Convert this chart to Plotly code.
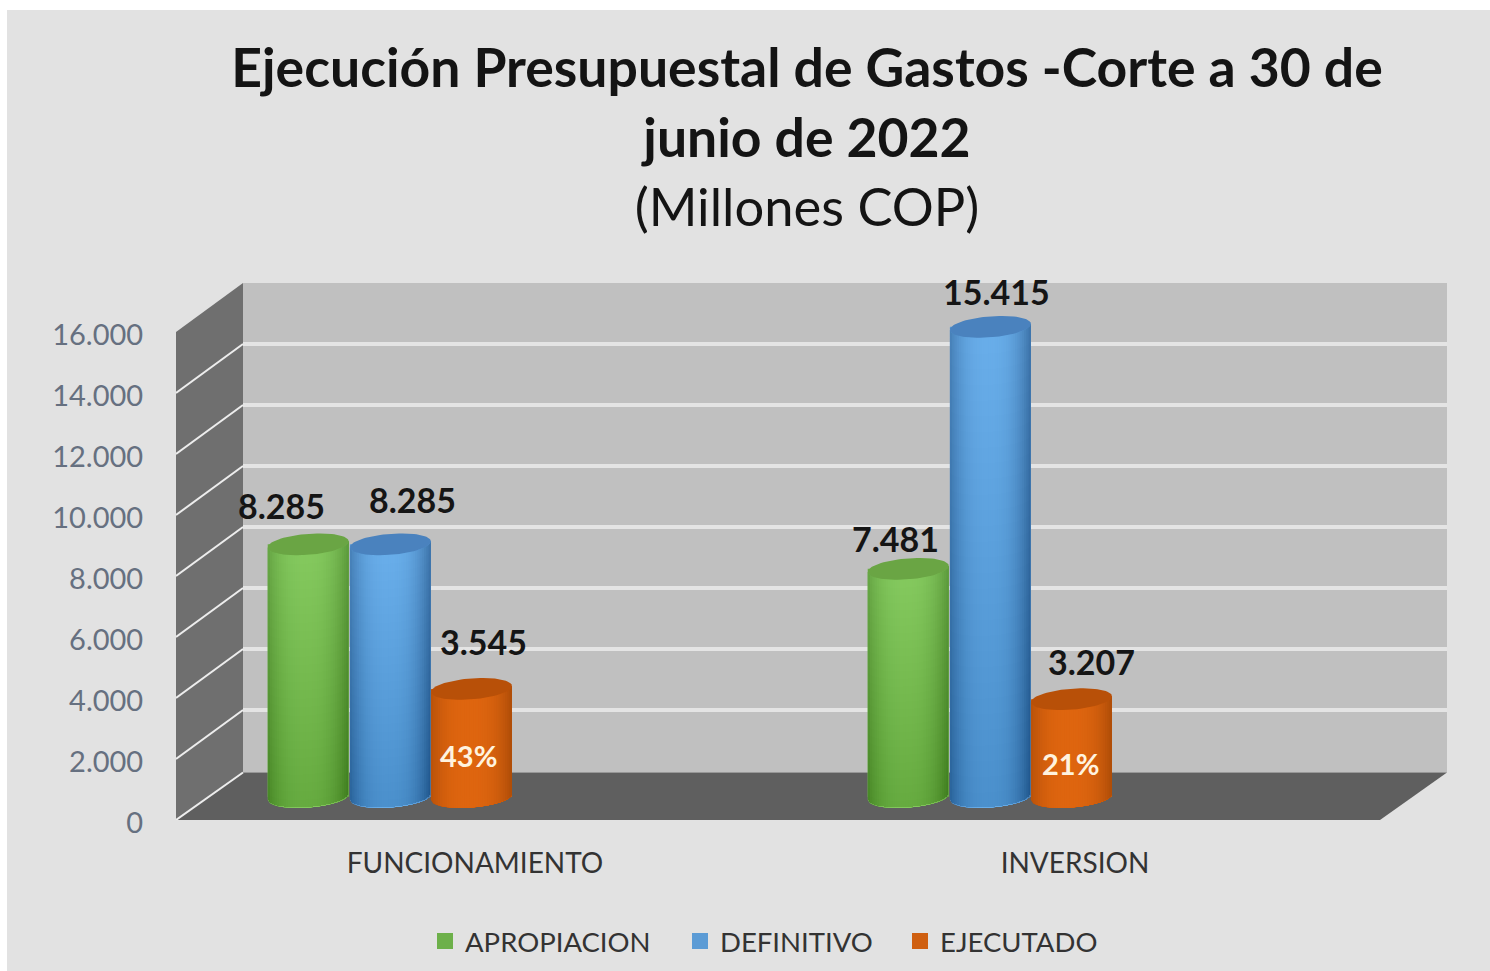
import numpy as np
import plotly.graph_objects as go

# ---------- data ----------
categories = ["FUNCIONAMIENTO", "INVERSION"]
series_names = ["APROPIACION", "DEFINITIVO", "EJECUTADO"]
apropiacion = [8285, 7481]
definitivo = [8285, 15415]
ejecutado = [3545, 3207]
ejecutado_pct = ["43%", "21%"]
y_ticks = [0, 2000, 4000, 6000, 8000, 10000, 12000, 14000, 16000]
y_tick_labels = ["0", "2.000", "4.000", "6.000", "8.000", "10.000", "12.000", "14.000", "16.000"]
title_lines = ["Ejecución Presupuestal de Gastos -Corte a 30 de", "junio de 2022", "(Millones COP)"]

# ---------- page geometry (pixels of the 1490x971 page) ----------
W, H = 1490, 971
L, R, T, B = 176, 1447, 283, 820
PX_PER_X = 600.0          # one category is 600 px wide
PX_PER_Y = 0.0305         # pixels per value unit
X0_PX = 475.0             # pixel of category 0
xmin = (L - X0_PX) / PX_PER_X
xmax = (R - X0_PX) / PX_PER_X
ymax = (B - T) / PX_PER_Y

DX = 67 / PX_PER_X        # depth of the box in x units
DY = 47.5 / PX_PER_Y      # depth of the box in y units
GRID_NUDGE = 1.5 / PX_PER_Y
RADIUS = 40.5 / PX_PER_X
RY = 10.5 / PX_PER_Y
TILT = 3 / PX_PER_Y
BASE = 23 / PX_PER_Y
OFFSETS = [-0.278, -0.141, -0.006]

EDGE = ["#5C9A3C", "#3C72A8", "#AE4C08"]
MID = ["#84C95E", "#69AEEA", "#DE650F"]
CAP = ["#6AA544", "#4A82BE", "#B85008"]
SWATCH = ["#6DB04A", "#5B9BD5", "#CF5F10"]
SHADE_TOTAL = [0.17, 0.12, 0.03]

# pixel offsets of the value labels from the top of each cylinder (series, category)
LABEL_SHIFT = [[(-27, 39), (-13, 30)], [(22, 45), (6, 35)], [(12.5, 47), (20.5, 38)]]
PCT_Y = [(820 - 755) / PX_PER_Y, (820 - 763) / PX_PER_Y]
PCT_X_SHIFT = [-3, -1]
LEGEND_X = [425, 680, 900]


def fmt(v):
    return f"{v:,}".replace(",", ".")


def hex2rgb(h):
    return np.array([int(h[i:i + 2], 16) for i in (1, 3, 5)], dtype=float)


def mix(a, b, f):
    c = hex2rgb(a) * (1 - f) + hex2rgb(b) * f
    return "rgb(%d,%d,%d)" % tuple(c.round())


def arc(t, y):
    """front (lower) edge of an ellipse centred at height y"""
    return y - RY * np.sqrt(np.clip(1 - t ** 2, 0, 1)) + TILT * t


fig = go.Figure()
values = [apropiacion, definitivo, ejecutado]

# real bars, from the data
for s, name in enumerate(series_names):
    fig.add_trace(go.Bar(
        x=[c + OFFSETS[s] for c in range(len(categories))], y=values[s], base=BASE,
        width=2 * RADIUS, marker=dict(color=SWATCH[s], line_width=0),
        name=name, showlegend=False, hovertemplate=name + ": %{y}<extra></extra>"))

# cylinder shading on top of them
N_STRIPS = 36
N_BANDS = 30
for s in range(3):
    for c in range(len(categories)):
        xc = c + OFFSETS[s]
        top = values[s][c] + BASE
        edges = np.linspace(-1, 1, N_STRIPS + 1)
        for i in range(N_STRIPS):
            t = np.linspace(edges[i], 1, 40)
            mid = (edges[i] + edges[i + 1]) / 2
            f = 1 - abs((mid + 0.05) / 1.05) ** 2.6
            xs = xc + RADIUS * t
            px = np.concatenate([xs, xs[::-1]])
            py = np.concatenate([arc(t, BASE), arc(t[::-1], top)])
            fig.add_trace(go.Scatter(x=px, y=py, mode="lines", fill="toself", line_width=0,
                                     fillcolor=mix(EDGE[s], MID[s], max(f, 0)),
                                     hoverinfo="skip", showlegend=False))
        t = np.linspace(-1, 1, 60)
        xs = xc + RADIUS * t
        for k in range(N_BANDS):
            level = top - (k / N_BANDS) * (top - BASE)
            fig.add_trace(go.Scatter(
                x=np.concatenate([xs, xs[::-1]]),
                y=np.concatenate([arc(t, level), arc(t[::-1], BASE)]),
                mode="lines", fill="toself", line_width=0,
                fillcolor=f"rgba(0,0,0,{SHADE_TOTAL[s] / N_BANDS:.4f})",
                hoverinfo="skip", showlegend=False))
        a = np.linspace(0, 2 * np.pi, 80)
        fig.add_trace(go.Scatter(
            x=xc + RADIUS * np.cos(a),
            y=top + RY * np.sin(a) + TILT * np.cos(a),
            mode="lines", fill="toself", line_width=0, fillcolor=CAP[s],
            hoverinfo="skip", showlegend=False))

# legend entries, one legend per series so that each can be placed
legend_ids = ["legend", "legend2", "legend3"]
for s, name in enumerate(series_names):
    fig.add_trace(go.Scatter(x=[None], y=[None], mode="markers", name=name, legend=legend_ids[s],
                             marker=dict(symbol="square", size=17, color=SWATCH[s])))

# box: page background, walls, floor, gridlines
shapes = [
    dict(type="rect", xref="paper", yref="paper", layer="below", line_width=0, fillcolor="#E2E2E2",
         x0=(7 - L) / (R - L), x1=(W - L + 5) / (R - L),
         y0=(B - H - 5) / (B - T), y1=(B - 10) / (B - T)),
    dict(type="path", layer="below", line_width=0, fillcolor="#C0C0C0",
         path=f"M{xmin + DX},{DY} L{xmax},{DY} L{xmax},{ymax} L{xmin + DX},{ymax} Z"),
    dict(type="path", layer="below", line_width=0, fillcolor="#6F6F6F",
         path=f"M{xmin},0 L{xmin + DX},{DY} L{xmin + DX},{ymax} L{xmin},{16000} Z"),
    dict(type="path", layer="below", line_width=0, fillcolor="#5F5F5F",
         path=f"M{xmin},0 L{xmin + DX},{DY} L{xmax},{DY} L{xmax - DX},0 Z"),
]
for v in y_ticks:
    if 0 < v < 16000:
        shapes.append(dict(type="line", layer="below", x0=xmin + DX, x1=xmax,
                           y0=v + DY + GRID_NUDGE, y1=v + DY + GRID_NUDGE,
                           line=dict(color="#E4E4E4", width=4)))
    if v < 16000:
        shapes.append(dict(type="line", layer="below", x0=xmin, x1=xmin + DX, y0=v,
                           y1=v + DY + (GRID_NUDGE if v else 0),
                           line=dict(color="#EDEDED", width=2)))

# value labels
ann = []
for s in range(3):
    for c in range(len(categories)):
        ann.append(dict(x=c + OFFSETS[s], y=values[s][c] + BASE, text=fmt(values[s][c]),
                        xshift=LABEL_SHIFT[s][c][0], yshift=LABEL_SHIFT[s][c][1],
                        showarrow=False, xanchor="center", yanchor="middle",
                        font=dict(family="Lato", size=34, color="#151515", weight="bold")))
for c in range(len(categories)):
    ann.append(dict(x=c + OFFSETS[2], y=PCT_Y[c], text=ejecutado_pct[c], xshift=PCT_X_SHIFT[c],
                    showarrow=False, xanchor="center", yanchor="middle",
                    font=dict(family="Lato", size=29, color="#FFF3DF", weight="bold")))

title_text = (f"<b>{title_lines[0]}</b><br><b>{title_lines[1]}</b><br>"
              f"<span style='font-size:52.5px'>{title_lines[2]}</span>")


def legend_box(x_px):
    return dict(orientation="h", x=x_px / W, xref="container", xanchor="left",
                y=1 - 941 / H, yref="container", yanchor="middle",
                bgcolor="rgba(0,0,0,0)", itemsizing="trace",
                font=dict(family="Lato", size=27.5, color="#333333"))


fig.update_layout(
    width=W, height=H, autosize=False,
    margin=dict(l=L, r=W - R, t=T, b=H - B, pad=0),
    paper_bgcolor="white", plot_bgcolor="rgba(0,0,0,0)",
    barmode="overlay", shapes=shapes, annotations=ann, hovermode="closest",
    title=dict(text=title_text, x=807 / W, xanchor="center", xref="container",
               y=1 - 87 / H, yanchor="top", yref="container", automargin=False,
               font=dict(family="Lato", size=53.5, color="#141414")),
    xaxis=dict(range=[xmin, xmax], tickmode="array", tickvals=list(range(len(categories))),
               ticktext=categories, showgrid=False, zeroline=False, showline=False,
               ticks="outside", ticklen=18, tickcolor="rgba(0,0,0,0)", automargin=False,
               tickfont=dict(family="Lato", size=28, color="#333333")),
    yaxis=dict(range=[0, ymax], tickmode="array", tickvals=y_ticks, ticktext=y_tick_labels,
               showgrid=False, zeroline=False, showline=False, ticklabelshift=3,
               ticks="outside", ticklen=26, tickcolor="rgba(0,0,0,0)", automargin=False,
               tickfont=dict(family="Lato", size=29, color="#667080")),
    legend=legend_box(LEGEND_X[0]), legend2=legend_box(LEGEND_X[1]), legend3=legend_box(LEGEND_X[2]),
)

fig.write_html("out.html", config={"displayModeBar": False},
               post_script="document.body.style.margin='0';document.body.style.overflow='hidden';")
